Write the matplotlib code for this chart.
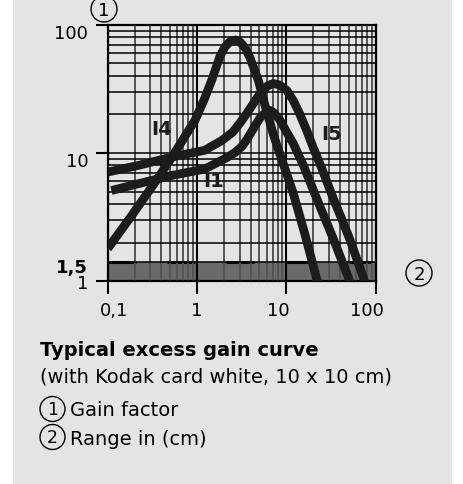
import matplotlib.pyplot as plt
import matplotlib.transforms as mtransforms
from matplotlib.patches import Circle, Rectangle

# gain curves (range in cm, gain factor)
i4_x = [0.1, 0.186, 0.34, 0.52, 0.95, 1.2, 1.46, 1.81, 2.05, 2.34, 2.7, 3.05, 3.5, 3.93, 4.85,
        5.77, 7.14, 8.3, 10, 12, 16.2, 21.9, 23.5]
i4_y = [1.8, 3.26, 5.93, 9.2, 18, 26, 36.9, 57, 67, 74, 76, 73, 65, 55, 36.9,
        23.5, 14, 10.2, 7, 4.8, 2.3, 1.04, 0.9]

i5_x = [0.1, 0.22, 0.52, 1.22, 1.89, 2.5, 3.0, 3.6, 4.3, 5.07, 6.2, 7.14, 8.3, 10.1, 12,
        14.2, 17, 20, 24.9, 33.6, 43, 51.6, 72.8, 78]
i5_y = [7.1, 8.0, 9.3, 10.5, 12.5, 14.5, 17, 20.3, 24.5, 29, 33.5, 34.8, 34, 30.8, 25.5,
        20, 14.8, 11, 7.6, 4.4, 2.9, 2.1, 1.07, 0.9]

i1_x = [0.11, 0.22, 0.52, 1.22, 2.15, 2.67, 3.2, 3.6, 4.4, 5.07, 6.0, 6.56, 7.3, 8.5, 10,
        12, 15.5, 21.9, 33.6, 49.5, 53]
i1_y = [5.1, 5.76, 6.68, 7.5, 9.2, 10.1, 11.3, 12.7, 16, 18.8, 21, 21.5, 20.5, 18, 14.7,
        11.8, 8.0, 4.4, 2.14, 1.07, 0.9]

curve_labels = ['I4', 'I5', 'I1']
label_pos = [(0.40, 15.4), (32, 14.1), (1.52, 6.1)]

threshold = 1.42   # band top as drawn
threshold_label = '1,5'

x_ticks = [0.1, 1, 10, 100]
x_tick_labels = ['0,1', '1', '10', '100']
y_ticks = [1, threshold, 10, 100]
y_tick_labels = ['1', threshold_label, '10', '100']

title = 'Typical excess gain curve'
subtitle = '(with Kodak card white, 10 x 10 cm)'
legend_items = ['Gain factor', 'Range in (cm)']

W, H = 463, 485
panel = '#e4e4e4'
ink = '#1c1c1c'

plt.rcParams['font.family'] = ['DejaVu Sans']

fig = plt.figure(figsize=(W / 100, H / 100), dpi=100)
fig.patch.set_facecolor('white')
fig.add_artist(Rectangle((13 / W, 0), (452 - 13) / W, 1, transform=fig.transFigure,
                         facecolor=panel, edgecolor='none', zorder=-10))

ax = fig.add_axes([107.7 / W, (H - 282.3) / H, 268 / W, 256.6 / H])
ax.set_facecolor(panel)
ax.set_xscale('log')
ax.set_yscale('log')
ax.set_xlim(0.1, 100)
ax.set_ylim(1, 100)

# dark band below threshold
ax.axhspan(1, threshold, color='#6a6a6a', zorder=0.5, lw=0)
ax.plot([0.1, 100], [threshold, threshold], color='black', lw=2.2,
        linestyle=(0, (9.2, 10.1)), zorder=1.5, solid_capstyle='butt')

# grid
ax.grid(True, which='minor', axis='x', color='#555555', lw=1.4, zorder=1)
ax.grid(True, which='major', axis='x', color='black', lw=1.5, zorder=1)
ax.grid(True, which='both', axis='y', color='black', lw=1.1, zorder=1)
ax.set_axisbelow(False)

for x, y in [(i4_x, i4_y), (i5_x, i5_y), (i1_x, i1_y)]:
    ax.plot(x, y, color=ink, lw=6.3, solid_joinstyle='round', solid_capstyle='butt', zorder=3)

for lab, (lx, ly) in zip(curve_labels, label_pos):
    ax.text(lx, ly, lab, fontsize=14, fontweight='bold', ha='center', va='center',
            color=ink, zorder=4)

ax.set_xticks(x_ticks)
ax.set_xticklabels(x_tick_labels)
ax.set_yticks(y_ticks)
ax.set_yticklabels(y_tick_labels)
ax.tick_params(which='minor', length=0)
ax.tick_params(which='major', direction='out', length=9, width=1.5, labelsize=13, pad=5,
               colors='black')
ax.yaxis.get_major_ticks()[1].tick1line.set_visible(False)
ax.get_yticklabels()[1].set_fontweight('bold')
for s in ax.spines.values():
    s.set_linewidth(1.6)
    s.set_zorder(2)

# nudge tick labels to where the reference prints them (pixels)
x_nudge = [6, 0, -8, -9]
y_nudge = [0, -3, -6, -6]
for lab, dx in zip(ax.get_xticklabels(), x_nudge):
    lab.set_transform(lab.get_transform() + mtransforms.ScaledTranslation(dx / 100, 0, fig.dpi_scale_trans))
for lab, dy in zip(ax.get_yticklabels(), y_nudge):
    lab.set_transform(lab.get_transform() + mtransforms.ScaledTranslation(0, dy / 100, fig.dpi_scale_trans))


def px(x, y):
    return x / W, 1 - y / H


def ring(x, y, r, num, size):
    fig.add_artist(Circle((x / 100, (H - y) / 100), r / 100, transform=fig.dpi_scale_trans,
                          facecolor='none', edgecolor='black', lw=1.0))
    fig.text(*px(x, y + 0.5), num, fontsize=size, ha='center', va='center')


ring(104, 10, 13, '1', 13)
ring(419, 274, 13, '2', 13)

fig.text(*px(40, 356), title, fontsize=14, fontweight='bold', va='baseline')
fig.text(*px(40, 383), subtitle, fontsize=14, va='baseline')
ring(52.5, 410, 12.5, '1', 12.5)
ring(52.5, 438, 12.5, '2', 12.5)
fig.text(*px(70, 416.5), legend_items[0], fontsize=14, va='baseline')
fig.text(*px(70, 445), legend_items[1], fontsize=14, va='baseline')

fig.savefig('out.png', dpi=100)
